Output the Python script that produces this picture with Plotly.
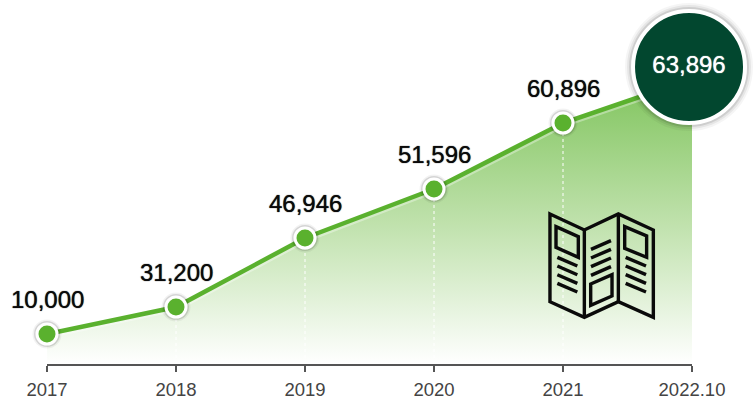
import plotly.graph_objects as go

W = 754
H = 403

years = ['2017', '2018', '2019', '2020', '2021', '2022.10']
positions = [0, 1, 2, 3, 4, 5]
labels = ['10,000', '31,200', '46,946', '51,596', '60,896']
heights = [30, 57, 126, 175, 241, 285]  # drawn height of each point above the axis
callout_label = '63,896'
callout_x = [4.977]
callout_y = [297]

GREEN = '#5AB12E'
DARK = '#02472F'
FONT = 'Liberation Sans'

fig = go.Figure()

# gradient area + soft white glow under the line
fig.add_trace(go.Scatter(
    x=positions, y=heights, mode='lines', fill='tozeroy',
    line=dict(color='rgba(255,255,255,0.35)', width=9),
    fillgradient=dict(type='vertical', start=0, stop=275,
                      colorscale=[[0, 'rgba(255,255,255,1)'], [0.5, '#C1E2AE'], [1, '#84C662']]),
    hoverinfo='skip',
))

# dotted drop lines
for x, h in zip(positions[1:5], heights[1:5]):
    fig.add_trace(go.Scatter(x=[x, x], y=[0, h], mode='lines',
                             line=dict(color='white', width=1, dash='dot'), hoverinfo='skip'))

fig.add_trace(go.Scatter(x=positions, y=heights, mode='lines',
                         line=dict(color=GREEN, width=4.5), hoverinfo='skip'))

# marker shadows, then markers
for size, alpha in [(29, 0.05), (26, 0.12)]:
    fig.add_trace(go.Scatter(x=positions[:5], y=heights[:5], mode='markers', cliponaxis=False,
                             marker=dict(size=size, color='rgba(0,0,0,%s)' % alpha), hoverinfo='skip'))
fig.add_trace(go.Scatter(x=positions[:5], y=heights[:5], mode='markers', cliponaxis=False,
                         marker=dict(size=20, color=GREEN, line=dict(color='white', width=3)),
                         hoverinfo='skip'))

# big callout with a stacked shadow
for size, alpha in [(128, 0.04), (124, 0.06), (120, 0.10)]:
    fig.add_trace(go.Scatter(x=callout_x, y=callout_y, mode='markers', cliponaxis=False,
                             marker=dict(size=size, color='rgba(0,0,0,%s)' % alpha), hoverinfo='skip'))
fig.add_trace(go.Scatter(
    x=callout_x, y=callout_y, mode='markers+text', cliponaxis=False,
    marker=dict(size=112, color=DARK, line=dict(color='white', width=4)),
    text=[callout_label], textposition='middle center',
    textfont=dict(family=FONT, size=24, color='white', shadow='0 0 1px white'),
    hoverinfo='skip',
))

for x, h, label in zip(positions, heights, labels):
    fig.add_annotation(x=x, y=h, text=label, showarrow=False, yshift=35,
                       font=dict(family=FONT, size=24, color='#0A0A0A', shadow='0 0 1px #0A0A0A'))


def px(x, y):
    return '%.4f %.4f' % ((530 + x / 3) / W, 1 - (200 + y / 3) / H)


def poly(points, close=True):
    path = 'M ' + ' L '.join(px(*p) for p in points)
    return path + ' Z' if close else path


# folded brochure icon, traced in zoomed crop coordinates
icon_closed = [
    [(60, 42), (163, 90), (265, 42), (370, 90), (370, 352), (265, 305), (163, 352), (60, 305)],
    [(78, 80), (145, 110), (145, 172), (78, 142)],
    [(182, 252), (246, 224), (246, 288), (182, 316)],
    [(284, 80), (350, 108), (350, 172), (284, 145)],
]
icon_open = [[(163, 90), (163, 352)], [(265, 42), (265, 305)]]
for i in range(4):
    icon_open.append([(82, 172 + 26 * i), (142, 198 + 26 * i)])
    icon_open.append([(183, 148 + 26 * i), (243, 122 + 26 * i)])
    icon_open.append([(287, 172 + 26 * i), (348, 198 + 26 * i)])

shapes = []
for pts in icon_closed:
    shapes.append(dict(type='path', xref='paper', yref='paper', path=poly(pts),
                       line=dict(color='#0A0A0A', width=3.4)))
for pts in icon_open:
    shapes.append(dict(type='path', xref='paper', yref='paper', path=poly(pts, False),
                       line=dict(color='#0A0A0A', width=3.4)))

fig.update_layout(
    width=W, height=H, autosize=False, showlegend=False,
    margin=dict(l=0, r=0, t=0, b=0, autoexpand=False),
    paper_bgcolor='white', plot_bgcolor='rgba(0,0,0,0)',
    shapes=shapes,
    xaxis=dict(domain=[47 / W, 692 / W], range=[0, 5], tickvals=positions, ticktext=years,
               showgrid=False, zeroline=False, showline=True, linecolor='#555555', linewidth=1.5,
               ticks='outside', ticklen=6, tickcolor='#555555', tickwidth=1.5, ticklabelstandoff=2,
               tickfont=dict(family=FONT, size=18.5, color='#444444')),
    yaxis=dict(domain=[39 / H, 1], range=[0, 364], visible=False),
)

fig.write_html('out.html', config=dict(displayModeBar=False),
               post_script="document.body.style.margin='0';")
